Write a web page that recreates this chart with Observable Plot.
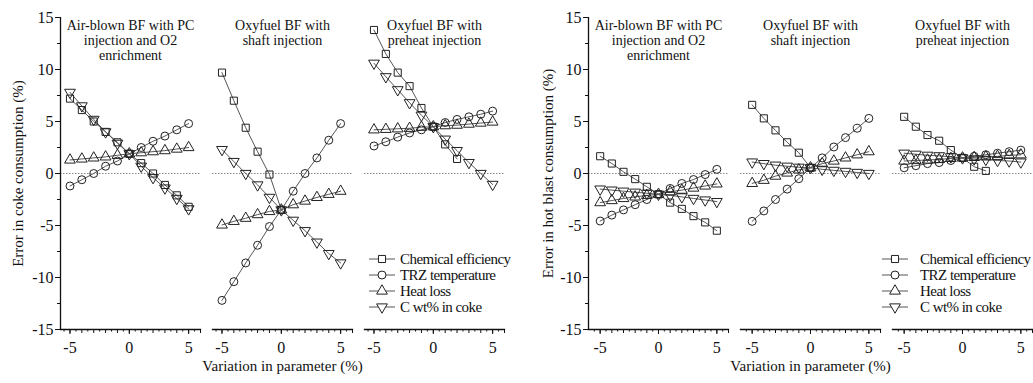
<!DOCTYPE html>
<html><head><meta charset="utf-8">
<script src="https://cdn.jsdelivr.net/npm/d3@7"></script>
<script src="https://cdn.jsdelivr.net/npm/@observablehq/plot@0.6"></script>
<style>
body{margin:0;background:#fff;}
#wrap{position:relative;width:1033px;height:383px;display:flex;overflow:hidden;}
#wrap svg{overflow:visible;}
.lg{position:absolute;font-family:"Liberation Serif",serif;font-size:15px;letter-spacing:-0.55px;color:#111;line-height:16px;white-space:nowrap;}
</style></head><body><div id="wrap"></div>
<script>
// ---------- data ----------
const variation = [-5, -4, -3, -2, -1, 0, 1, 2, 3, 4, 5];
const facetTitles = ["Air-blown BF with PC\ninjection and O2\nenrichment", "Oxyfuel BF with\nshaft injection", "Oxyfuel BF with\npreheat injection"];
const seriesNames = ["Chemical efficiency", "TRZ temperature", "Heat loss", "C wt% in coke"];
const yTicks = [-15, -10, -5, 0, 5, 10, 15];
const yMinorTicks = [-12.5, -7.5, -2.5, 2.5, 7.5, 12.5];
const xLabelTicks = [-5, 0, 5];
const xIntTicks = [-5, -4, -3, -2, -1, 0, 1, 2, 3, 4, 5, 6];
const xHalfTicks = [-5.5, -4.5, -3.5, -2.5, -1.5, -0.5, 0.5, 1.5, 2.5, 3.5, 4.5, 5.5];

// Error in coke consumption (%), per facet
const cokeChem = [
  [7.2, 6.1, 5.0, 4.0, 3.0, 1.9, 1.0, 0.0, -1.1, -2.1, -3.2],
  [9.7, 7.0, 4.4, 2.1, -0.1, -3.5, null, null, null, null, null],
  [13.8, 11.5, 9.7, 8.4, 6.3, 4.5, 2.8, 1.4, null, null, null]];
const cokeTRZ = [
  [-1.2, -0.6, 0.0, 0.7, 1.2, 1.9, 2.5, 3.1, 3.6, 4.2, 4.8],
  [-12.2, -10.4, -8.6, -6.9, -5.1, -3.5, -1.7, 0.0, 1.5, 3.2, 4.8],
  [2.65, 3.05, 3.5, 3.9, 4.2, 4.5, 4.9, 5.2, 5.45, 5.7, 6.0]];
const cokeHeat = [
  [1.3, 1.4, 1.5, 1.6, 1.75, 1.9, 2.0, 2.1, 2.2, 2.35, 2.5],
  [-4.95, -4.6, -4.3, -3.95, -3.65, -3.5, -3.0, -2.65, -2.3, -2.0, -1.7],
  [4.2, 4.25, 4.3, 4.35, 4.45, 4.5, 4.6, 4.65, 4.75, 4.85, 4.95]];
const cokeCwt = [
  [7.8, 6.5, 5.2, 4.0, 2.9, 1.9, 0.7, -0.4, -1.4, -2.4, -3.4],
  [2.3, 1.15, 0.0, -1.1, -2.3, -3.5, -4.5, -5.5, -6.6, -7.7, -8.6],
  [10.6, 9.3, 8.05, 6.8, 5.6, 4.5, 3.3, 2.2, 1.05, 0.0, -1.05]];

// Error in hot blast consumption (%), per facet
const blastChem = [
  [1.66, 0.96, 0.16, -0.54, -1.28, -2.0, -2.8, -3.4, -4.1, -4.7, -5.5],
  [6.6, 5.3, 4.15, 3.0, 2.0, 0.55, null, null, null, null, null],
  [5.45, 4.5, 3.7, 3.15, 2.25, 1.5, 0.65, 0.25, null, null, null]];
const blastTRZ = [
  [-4.57, -4.0, -3.5, -3.0, -2.5, -2.0, -1.44, -0.96, -0.58, -0.1, 0.4],
  [-4.6, -3.6, -2.5, -1.5, -0.5, 0.55, 1.5, 2.55, 3.45, 4.35, 5.3],
  [0.55, 0.75, 0.95, 1.05, 1.25, 1.5, 1.65, 1.8, 1.95, 2.1, 2.25]];
const blastHeat = [
  [-2.8, -2.6, -2.4, -2.25, -2.1, -2.0, -1.75, -1.6, -1.4, -1.2, -1.0],
  [-0.95, -0.65, -0.25, 0.05, 0.35, 0.55, 0.95, 1.2, 1.5, 1.8, 2.1],
  [1.2, 1.25, 1.3, 1.35, 1.45, 1.5, 1.55, 1.6, 1.65, 1.75, 1.8]];
const blastCwt = [
  [-1.5, -1.6, -1.7, -1.8, -1.9, -2.0, -2.1, -2.25, -2.4, -2.55, -2.7],
  [1.1, 0.95, 0.8, 0.7, 0.6, 0.55, 0.4, 0.3, 0.2, 0.1, 0.0],
  [1.95, 1.85, 1.75, 1.7, 1.6, 1.5, 1.4, 1.35, 1.25, 1.2, 1.1]];

// ---------- symbols ----------
const sqrt3 = Math.sqrt(3);
const triangleDown = {
  draw(context, size) {
    const y = -Math.sqrt(size / (sqrt3 * 3));
    context.moveTo(0, -y * 2);
    context.lineTo(-sqrt3 * y, y);
    context.lineTo(sqrt3 * y, y);
    context.closePath();
  }
};
const symbols = [d3.symbolSquare, d3.symbolCircle, d3.symbolTriangle, triangleDown];
const R = 4;
const FONT = '"Liberation Serif", serif';

function rowsFor(seriesArrays) {
  const rows = [];
  seriesArrays.forEach((perFacet, si) => {
    perFacet.forEach((vals, fi) => {
      vals.forEach((v, i) => {
        if (v != null) rows.push({series: seriesNames[si], facet: facetTitles[fi], x: variation[i], y: v});
      });
    });
  });
  return rows;
}

function makePanel(cfg) {
  const rows = rowsFor(cfg.series);
  const fmt = d => String(d);
  const marks = [
    Plot.ruleY([0], {stroke: "#888", strokeWidth: 1, strokeDasharray: "1.5,1.5"}),
    Plot.frame({anchor: "bottom", stroke: "#111", strokeWidth: 1.3}),
    Plot.ruleX([{f: facetTitles[0], x: cfg.xDomain[0]}], {x: "x", fx: "f", stroke: "#111", strokeWidth: 1.3}),
    Plot.axisY({ticks: yTicks, tickSize: 5, tickPadding: 2, tickFormat: fmt, label: null, fontSize: 16, stroke: "#111"}),
    Plot.axisY({ticks: yMinorTicks, tickSize: 3, tickFormat: null, text: null, label: null, stroke: "#111"}),
    Plot.axisX({ticks: xLabelTicks, tickSize: 5, tickPadding: 7, tickFormat: fmt, label: null, fontSize: 16, stroke: "#111"}),
    Plot.axisX({ticks: xIntTicks, tickSize: 4, text: null, label: null, stroke: "#111"}),
    Plot.axisX({ticks: xHalfTicks, tickSize: 2.5, text: null, label: null, stroke: "#111"}),
    Plot.line(rows, {x: "x", y: "y", z: "series", fx: "facet", stroke: "#555", strokeWidth: 1})
  ];
  seriesNames.forEach((s, i) => {
    marks.push(Plot.dot(rows.filter(d => d.series === s), {x: "x", y: "y", fx: "facet", symbol: symbols[i], r: R, stroke: "#222", strokeWidth: 1, fill: "none"}));
  });
  marks.push(
    Plot.text(facetTitles.map(f => ({f})), {fx: "f", text: "f", frameAnchor: "top", lineAnchor: "top", dy: 2, fontSize: 14, lineHeight: 1.07, fill: "#111", ariaLabel: "facet-title"}),
    Plot.text([{f: facetTitles[0], t: cfg.yTitle}], {fx: "f", text: "t", frameAnchor: "left", textAnchor: "middle", rotate: -90, dx: -cfg.yTitleOffset, fontSize: 15, fill: "#111", ariaLabel: "y-title"}),
    Plot.text([{f: facetTitles[1], t: "Variation in parameter (%)"}], {fx: "f", text: "t", frameAnchor: "bottom", dy: 41, fontSize: 15, fill: "#111", ariaLabel: "x-title"})
  );
  const svg = Plot.plot({
    width: cfg.width, height: 383,
    marginLeft: cfg.ml, marginRight: cfg.mr, marginTop: 17, marginBottom: 54,
    style: {fontFamily: FONT, background: "white", color: "#111", overflow: "visible"},
    fx: {domain: facetTitles, paddingInner: 12 / 152, paddingOuter: 0, axis: null, label: null},
    x: {domain: cfg.xDomain},
    y: {domain: [-15, 15]},
    marks
  });
  d3.select(svg).selectAll('g[aria-label="facet-title"] text').style("letter-spacing", "-0.6px");
  d3.select(svg).selectAll('g[aria-label="x-title"] text').style("letter-spacing", "-0.4px");
  return svg;
}

const wrap = document.getElementById("wrap");
wrap.appendChild(makePanel({
  width: 516, ml: 60, mr: 12, xDomain: [-5.8, 6], yTitleOffset: 42,
  yTitle: "Error in coke consumption (%)",
  series: [cokeChem, cokeTRZ, cokeHeat, cokeCwt]
}));
wrap.appendChild(makePanel({
  width: 517, ml: 71, mr: 1, xDomain: [-6, 6], yTitleOffset: 40,
  yTitle: "Error in hot blast consumption (%)",
  series: [blastChem, blastTRZ, blastHeat, blastCwt]
}));

// ---------- legends ----------
function addLegend(lineX0, lineX1, markX, textX, rowY) {
  seriesNames.forEach((s, i) => {
    const cy = rowY[i];
    const svg = d3.select(wrap).append("svg")
      .attr("width", 1033).attr("height", 383)
      .style("position", "absolute").style("left", "0px").style("top", "0px").style("pointer-events", "none");
    svg.append("line").attr("x1", lineX0).attr("x2", lineX1).attr("y1", cy).attr("y2", cy)
      .attr("stroke", "#555").attr("stroke-width", 1);
    svg.append("path").attr("d", d3.symbol(symbols[i], R * R * Math.PI)())
      .attr("transform", `translate(${markX},${cy})`)
      .attr("fill", "white").attr("stroke", "#222").attr("stroke-width", 1);
    d3.select(wrap).append("div").attr("class", "lg")
      .style("left", textX + "px").style("top", (cy - 8) + "px").text(s);
  });
}
const legendRows = [259, 275, 291, 307];
addLegend(369, 395, 382, 400, legendRows);
addLegend(882, 908, 895, 920, legendRows);
</script></body></html>
